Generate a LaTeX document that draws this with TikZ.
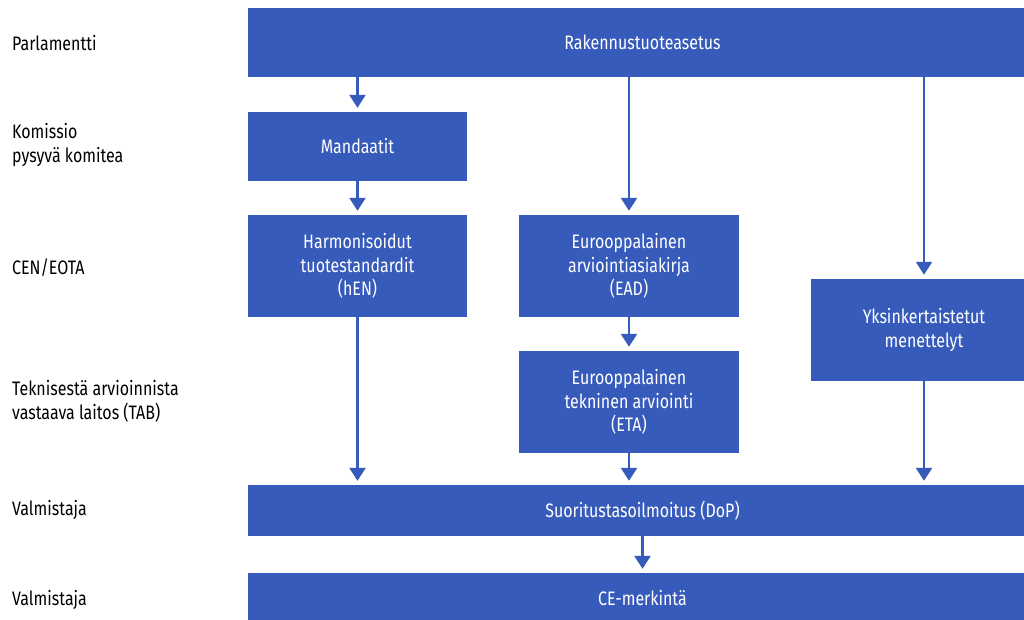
\documentclass[tikz,border=0pt]{standalone}
\usepackage{fontspec}
\setmainfont[FakeStretch=0.82]{Fira Sans}
\usetikzlibrary{arrows.meta}
\definecolor{boxblue}{RGB}{55,91,187}
\tikzset{
  blue_box/.style={fill=boxblue, text=white, align=center, inner sep=0pt,
      minimum width=219pt, font=\fontsize{19.5}{23.5}\selectfont},
  side_label/.style={anchor=west, align=left, inner sep=0pt,
      font=\fontsize{19.5}{24}\selectfont},
  flow/.style={draw=boxblue, line width=2.5pt, shorten >=4pt,
      -{Triangle[length=13pt,width=16pt]}}
}

\begin{document}
\begin{tikzpicture}[x=1pt,y=-1pt]
  \useasboundingbox (0,0) rectangle (1024,620);
  % boxes
  \node[blue_box, minimum width=789pt, minimum height=69pt] (rak) at (642.5,42.5) {Rakennustuoteasetus};
  \node[blue_box, minimum height=69pt] (man) at (357.5,146.5) {Mandaatit};
  \node[blue_box, minimum height=102pt] (hen) at (357.5,266) {Harmonisoidut\\tuotestandardit\\(hEN)};
  \node[blue_box, minimum width=220pt, minimum height=102pt] (ead) at (629,266) {Eurooppalainen\\arviointiasiakirja\\(EAD)};
  \node[blue_box, minimum width=220pt, minimum height=102pt] (eta) at (629,402) {Eurooppalainen\\tekninen arviointi\\(ETA)};
  \node[blue_box, minimum width=226pt, minimum height=102pt] (yks) at (924,330) {Yksinkertaistetut\\menettelyt};
  \node[blue_box, minimum width=789pt, minimum height=51pt] (dop) at (642.5,510.5) {Suoritustasoilmoitus (DoP)};
  \node[blue_box, minimum width=789pt, minimum height=50pt] (ce) at (642.5,598) {CE-merkintä};

  % side labels
  \node[side_label] (l1) at (12,43) {Parlamentti};
  \node[side_label] (l2) at (12,145) {Komissio\\pysyvä komitea};
  \node[side_label] (l3) at (12,268) {CEN/EOTA};
  \node[side_label] (l4) at (12,401) {Teknisestä arvioinnista\\vastaava laitos (TAB)};
  \node[side_label] (l5) at (12,510) {Valmistaja};
  \node[side_label] (l6) at (12,600) {Valmistaja};

  % arrows
  \draw[flow] (rak.south -| man.north) -- (man.north);
  \draw[flow] (man.south) -- (hen.north);
  \draw[flow] (rak.south -| ead.north) -- (ead.north);
  \draw[flow] (rak.south -| yks.north) -- (yks.north);
  \draw[flow] (hen.south) -- (hen.south |- dop.north);
  \draw[flow] (ead.south) -- (eta.north);
  \draw[flow] (eta.south) -- (eta.south |- dop.north);
  \draw[flow] (yks.south) -- (yks.south |- dop.north);
  \draw[flow] (dop.south) -- (ce.north);
\end{tikzpicture}
\end{document}
